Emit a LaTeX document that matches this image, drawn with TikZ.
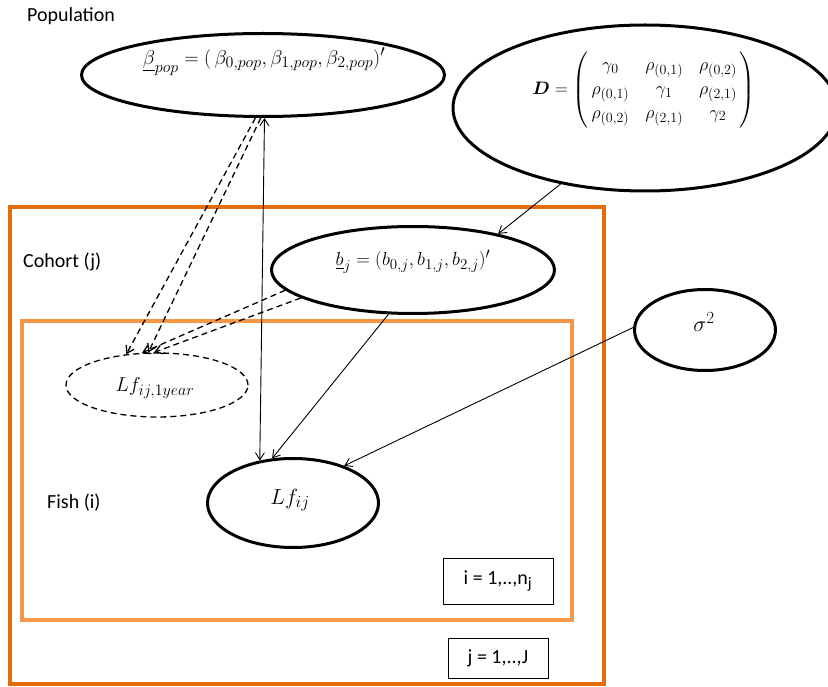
\RequirePackage{fix-cm}
\documentclass[tikz,border=0pt]{standalone}
\usepackage{amsmath,amssymb}
\usepackage[no-math]{fontspec}
\newfontfamily\calib{Carlito}
\usetikzlibrary{arrows.meta,shapes.geometric}
\DeclareMathSizes{18}{18}{14}{11}
\DeclareMathSizes{19}{19}{15}{12}
\DeclareMathSizes{20}{20}{16}{12}
\DeclareMathSizes{22}{22}{17}{13}
\definecolor{outerorange}{RGB}{228,108,10}
\definecolor{innerorange}{RGB}{247,150,70}
\tikzset{
  ell/.style={draw, ellipse, line width=3pt, inner sep=0pt},
  dashell/.style={draw, ellipse, line width=1.3pt, dash pattern=on 6pt off 4pt, inner sep=0pt},
  conn/.style={-{Straight Barb[length=7pt,width=9pt]}, line width=0.9pt},
  dconn/.style={-{Straight Barb[length=7pt,width=9pt]}, line width=1.3pt, dash pattern=on 6pt off 4pt},
  plate/.style={line width=4.5pt},
  lbl/.style={font=\calib\fontsize{20}{24}\selectfont, anchor=west, inner sep=0pt},
  idx/.style={draw, line width=0.8pt, font=\calib\fontsize{20}{24}\selectfont, inner sep=0pt},
  mtxt/.style={inner sep=0pt}
}
\begin{document}
\begin{tikzpicture}[x=1pt,y=-1pt]
\useasboundingbox (0,0) rectangle (828,687);
% plates
\draw[plate, outerorange] (10,207) rectangle (604,684);
\draw[plate, innerorange] (22,321) rectangle (572,620);
% plate labels
\node[lbl] (pop) at (27,16) {Population};
\node[lbl] (coh) at (23,262) {Cohort (j)};
\node[lbl] (fish) at (47,503) {Fish (i)};
\node[idx, minimum width=110pt, minimum height=46pt] (ibox) at (498,581) {i = 1,..,n\textsubscript{j}};
\node[idx, minimum width=100pt, minimum height=40pt] (jbox) at (498,658) {j = 1,..,J};
% ellipses
\node[ell, minimum width=363pt, minimum height=83pt] (beta) at (263,75) {};
\node[ell, minimum width=384pt, minimum height=166pt] (D) at (645,108) {};
\node[ell, minimum width=283pt, minimum height=87pt] (bj) at (413,270) {};
\node[ell, minimum width=141pt, minimum height=81pt] (sig) at (705,330) {};
\node[dashell, minimum width=182pt, minimum height=64pt] (l1) at (157,385) {};
\node[ell, minimum width=171pt, minimum height=89pt] (lf) at (293,503) {};
% texts
\node[mtxt, font=\fontsize{20}{24}\selectfont] (betat) at (264,62) {$\underline{\beta}_{pop} = (\,\beta_{0,pop}, \beta_{1,pop}, \beta_{2,pop})'$};
\node[mtxt, font=\fontsize{18}{21}\selectfont] (Dt) at (644,90) {\setlength{\arraycolsep}{8pt}\renewcommand{\arraystretch}{1.1}$\boldsymbol{D} = \left(\,\begin{matrix}\gamma_0 & \rho_{(0,1)} & \rho_{(0,2)}\\ \rho_{(0,1)} & \gamma_1 & \rho_{(2,1)}\\ \rho_{(0,2)} & \rho_{(2,1)} & \gamma_2\end{matrix}\,\right)$};
\node[mtxt, font=\fontsize{19}{23}\selectfont] (bjt) at (413,262) {$\underline{b}_j = (b_{0,j}, b_{1,j}, b_{2,j})'$};
\node[mtxt, font=\fontsize{22}{26}\selectfont] (sigt) at (704,322) {$\sigma^2$};
\node[mtxt, font=\fontsize{20}{24}\selectfont] (l1t) at (155,388) {$Lf_{ij,1year}$};
\node[mtxt, font=\fontsize{22}{26}\selectfont] (lft) at (290,500) {$Lf_{ij}$};
% connectors
\draw[conn] (D.222) -- (bj.23);
\draw[conn] (bj.241) -- (lf.115);
\draw[conn] (sig.178) -- (lf.36);
\draw[conn, {Straight Barb[length=7pt,width=9pt]}-{Straight Barb[length=7pt,width=9pt]}] (beta.272) -- (lf.128);
\draw[dconn] (beta.260) -- (l1.135);
\draw[dconn] (beta.267) -- (l1.105);
\draw[dconn] (bj.189) -- (l1.115);
\draw[dconn] (bj.194) -- (l1.95);
\end{tikzpicture}
\end{document}
